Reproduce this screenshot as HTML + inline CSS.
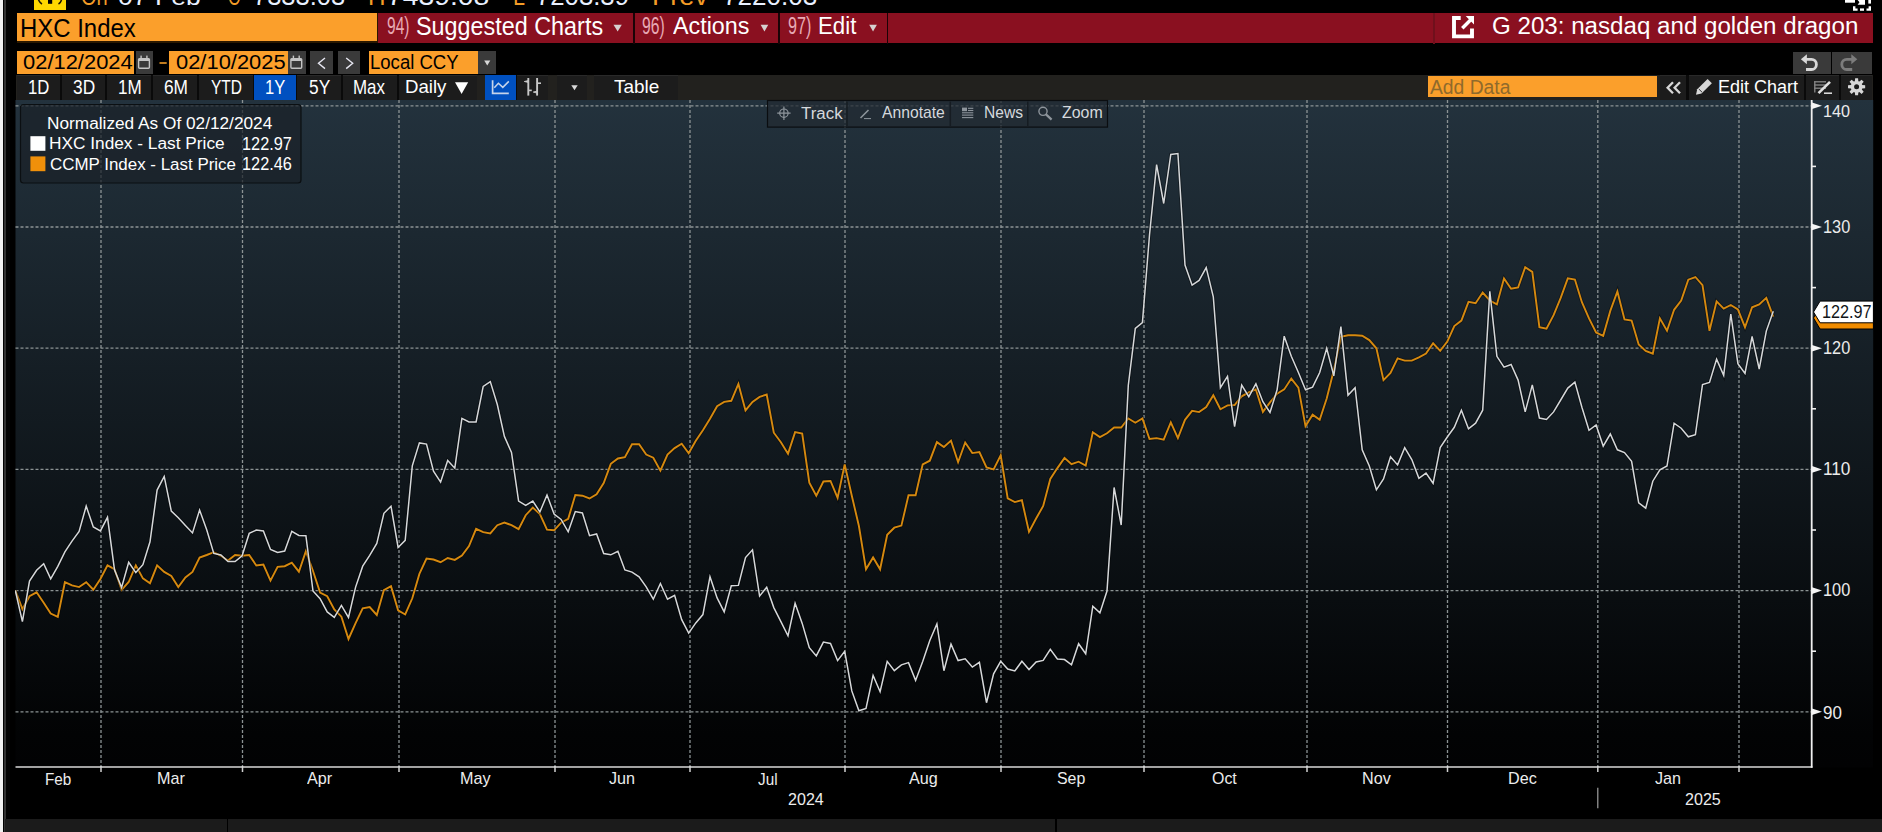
<!DOCTYPE html>
<html><head><meta charset="utf-8"><style>
html,body{margin:0;padding:0;background:#000;width:1882px;height:832px;overflow:hidden;position:relative}
.t{position:absolute;font-family:"Liberation Sans",sans-serif;white-space:pre;transform-origin:0 0}
.b{position:absolute}
</style></head><body>
<div class="b" style="left:0;top:0;width:3px;height:832px;background:#f0f0f0"></div>
<div class="b" style="left:4px;top:0;width:2px;height:832px;background:#303030"></div>
<div class="b" style="left:34px;top:0;width:32px;height:10px;background:#ffd800"></div>
<!-- row2 -->
<div class="b" style="left:16.5px;top:13px;width:361.5px;height:30px;background:#2a1800"></div><div class="b" style="left:17px;top:13.4px;width:359.6px;height:27.8px;background:#fb9f2b"></div>
<div class="b" style="left:377.7px;top:12.6px;width:1495.7px;height:30.7px;background:#8a1020"></div>
<div class="b" style="left:633px;top:13px;width:1.5px;height:30.5px;background:#1a0306"></div>
<div class="b" style="left:778px;top:13px;width:1.5px;height:30.5px;background:#1a0306"></div>
<div class="b" style="left:886.5px;top:13px;width:1.5px;height:30.5px;background:#1a0306"></div>
<div class="b" style="left:1433px;top:13px;width:1.5px;height:30.5px;background:#70101c"></div>
<!-- row3 -->
<div class="b" style="left:17px;top:51px;width:117px;height:23px;background:#fb9f2b"></div>
<div class="b" style="left:135.5px;top:51px;width:17.5px;height:23px;background:#3a3a3a"></div>
<div class="b" style="left:169px;top:51px;width:118.5px;height:23px;background:#fb9f2b"></div>
<div class="b" style="left:287.5px;top:51px;width:18px;height:23px;background:#3a3a3a"></div>
<div class="b" style="left:309.5px;top:51px;width:23.5px;height:23px;background:#3a3a3a"></div>
<div class="b" style="left:338px;top:51px;width:22px;height:23px;background:#3a3a3a"></div>
<div class="b" style="left:369px;top:51px;width:108.5px;height:23px;background:#fb9f2b"></div>
<div class="b" style="left:477.5px;top:51px;width:18px;height:23px;background:#3a3a3a"></div>
<div class="b" style="left:1792.5px;top:51.5px;width:38px;height:22px;background:#3a3a3a"></div>
<div class="b" style="left:1832.3px;top:51.5px;width:39.5px;height:22px;background:#3a3a3a"></div>
<!-- row4 -->
<div class="b" style="left:15.5px;top:75px;width:1857px;height:25px;background:#22211e"></div>
<div class="b" style="left:59.9px;top:75px;width:2.1px;height:25px;background:#0a0a0a"></div>
<div class="b" style="left:105.3px;top:75px;width:1.6px;height:25px;background:#0a0a0a"></div>
<div class="b" style="left:151.2px;top:75px;width:1.7px;height:25px;background:#0a0a0a"></div>
<div class="b" style="left:197.0px;top:75px;width:2.1px;height:25px;background:#0a0a0a"></div>
<div class="b" style="left:252.7px;top:75px;width:1.9px;height:25px;background:#0a0a0a"></div>
<div class="b" style="left:296.2px;top:75px;width:1.1px;height:25px;background:#0a0a0a"></div>
<div class="b" style="left:341.3px;top:75px;width:2.0px;height:25px;background:#0a0a0a"></div>
<div class="b" style="left:397.1px;top:75px;width:2.4px;height:25px;background:#0a0a0a"></div>
<div class="b" style="left:515.7px;top:75px;width:1.1px;height:25px;background:#0a0a0a"></div>
<div class="b" style="left:1685.6px;top:75px;width:3.2px;height:25px;background:#0a0a0a"></div>
<div class="b" style="left:1804.2px;top:75px;width:1.9px;height:25px;background:#0a0a0a"></div>
<div class="b" style="left:1839.3px;top:75px;width:2.2px;height:25px;background:#0a0a0a"></div>
<div class="b" style="left:17px;top:75px;width:42.9px;height:25px;background:#1c1c1c;border-top:1px solid #292929;box-sizing:border-box;"></div>
<div class="b" style="left:61.7px;top:75px;width:43.6px;height:25px;background:#1c1c1c;border-top:1px solid #292929;box-sizing:border-box;"></div>
<div class="b" style="left:106.6px;top:75px;width:44.6px;height:25px;background:#1c1c1c;border-top:1px solid #292929;box-sizing:border-box;"></div>
<div class="b" style="left:152.6px;top:75px;width:44.4px;height:25px;background:#1c1c1c;border-top:1px solid #292929;box-sizing:border-box;"></div>
<div class="b" style="left:198.8px;top:75px;width:53.9px;height:25px;background:#1c1c1c;border-top:1px solid #292929;box-sizing:border-box;"></div>
<div class="b" style="left:254.3px;top:75px;width:41.9px;height:25px;background:#0050c0;"></div>
<div class="b" style="left:297px;top:75px;width:44.3px;height:25px;background:#1c1c1c;border-top:1px solid #292929;box-sizing:border-box;"></div>
<div class="b" style="left:343px;top:75px;width:54.1px;height:25px;background:#1c1c1c;border-top:1px solid #292929;box-sizing:border-box;"></div>
<div class="b" style="left:399.2px;top:75px;width:77.9px;height:25px;background:#1c1c1c;border-top:1px solid #292929;box-sizing:border-box;"></div>
<div class="b" style="left:485.3px;top:75px;width:30.4px;height:25px;background:#0050c0;"></div>
<div class="b" style="left:516.5px;top:75px;width:31.0px;height:25px;background:#1c1c1c;border-top:1px solid #292929;box-sizing:border-box;"></div>
<div class="b" style="left:556.6px;top:75px;width:30.5px;height:25px;background:#1c1c1c;border-top:1px solid #292929;box-sizing:border-box;"></div>
<div class="b" style="left:594px;top:75px;width:84.2px;height:25px;background:#1c1c1c;border-top:1px solid #292929;box-sizing:border-box;"></div>
<div class="b" style="left:1659.8px;top:75px;width:25.8px;height:25px;background:#1c1c1c;border-top:1px solid #292929;box-sizing:border-box;"></div>
<div class="b" style="left:1688.5px;top:75px;width:115.7px;height:25px;background:#1c1c1c;border-top:1px solid #292929;box-sizing:border-box;"></div>
<div class="b" style="left:1805.8px;top:75px;width:33.5px;height:25px;background:#1c1c1c;border-top:1px solid #292929;box-sizing:border-box;"></div>
<div class="b" style="left:1841.2px;top:75px;width:30.6px;height:25px;background:#1c1c1c;border-top:1px solid #292929;box-sizing:border-box;"></div>
<div class="b" style="left:1428.2px;top:76.2px;width:229.2px;height:21.3px;background:#fb9f2b"></div>
<!-- chart -->
<svg class="b" style="left:0;top:0" width="1882" height="832">
<defs><linearGradient id="bg" x1="0" y1="0" x2="0" y2="1"><stop offset="0" stop-color="#23323d"/><stop offset="0.95" stop-color="#020304"/><stop offset="1" stop-color="#020203"/></linearGradient><clipPath id="pc"><rect x="15" y="100" width="1797" height="667"/></clipPath></defs>
<rect x="15.5" y="100" width="1858" height="667.5" fill="url(#bg)"/>
<line x1="15.5" y1="105.8" x2="1811" y2="105.8" stroke="#8c9394" stroke-width="1.3" stroke-dasharray="3 2"/>
<line x1="15.5" y1="227.0" x2="1811" y2="227.0" stroke="#8c9394" stroke-width="1.3" stroke-dasharray="3 2"/>
<line x1="15.5" y1="348.2" x2="1811" y2="348.2" stroke="#8c9394" stroke-width="1.3" stroke-dasharray="3 2"/>
<line x1="15.5" y1="469.4" x2="1811" y2="469.4" stroke="#8c9394" stroke-width="1.3" stroke-dasharray="3 2"/>
<line x1="15.5" y1="590.6" x2="1811" y2="590.6" stroke="#8c9394" stroke-width="1.3" stroke-dasharray="3 2"/>
<line x1="15.5" y1="711.8" x2="1811" y2="711.8" stroke="#8c9394" stroke-width="1.3" stroke-dasharray="3 2"/>
<line x1="101" y1="100" x2="101" y2="767" stroke="#8c9394" stroke-width="1.3" stroke-dasharray="3 2"/>
<line x1="101" y1="766" x2="101" y2="772" stroke="#d0d0d0" stroke-width="1.5"/>
<line x1="242.5" y1="100" x2="242.5" y2="767" stroke="#8c9394" stroke-width="1.3" stroke-dasharray="3 2"/>
<line x1="242.5" y1="766" x2="242.5" y2="772" stroke="#d0d0d0" stroke-width="1.5"/>
<line x1="399" y1="100" x2="399" y2="767" stroke="#8c9394" stroke-width="1.3" stroke-dasharray="3 2"/>
<line x1="399" y1="766" x2="399" y2="772" stroke="#d0d0d0" stroke-width="1.5"/>
<line x1="555" y1="100" x2="555" y2="767" stroke="#8c9394" stroke-width="1.3" stroke-dasharray="3 2"/>
<line x1="555" y1="766" x2="555" y2="772" stroke="#d0d0d0" stroke-width="1.5"/>
<line x1="690" y1="100" x2="690" y2="767" stroke="#8c9394" stroke-width="1.3" stroke-dasharray="3 2"/>
<line x1="690" y1="766" x2="690" y2="772" stroke="#d0d0d0" stroke-width="1.5"/>
<line x1="845" y1="100" x2="845" y2="767" stroke="#8c9394" stroke-width="1.3" stroke-dasharray="3 2"/>
<line x1="845" y1="766" x2="845" y2="772" stroke="#d0d0d0" stroke-width="1.5"/>
<line x1="1001" y1="100" x2="1001" y2="767" stroke="#8c9394" stroke-width="1.3" stroke-dasharray="3 2"/>
<line x1="1001" y1="766" x2="1001" y2="772" stroke="#d0d0d0" stroke-width="1.5"/>
<line x1="1144" y1="100" x2="1144" y2="767" stroke="#8c9394" stroke-width="1.3" stroke-dasharray="3 2"/>
<line x1="1144" y1="766" x2="1144" y2="772" stroke="#d0d0d0" stroke-width="1.5"/>
<line x1="1307" y1="100" x2="1307" y2="767" stroke="#8c9394" stroke-width="1.3" stroke-dasharray="3 2"/>
<line x1="1307" y1="766" x2="1307" y2="772" stroke="#d0d0d0" stroke-width="1.5"/>
<line x1="1447.5" y1="100" x2="1447.5" y2="767" stroke="#8c9394" stroke-width="1.3" stroke-dasharray="3 2"/>
<line x1="1447.5" y1="766" x2="1447.5" y2="772" stroke="#d0d0d0" stroke-width="1.5"/>
<line x1="1597.8" y1="100" x2="1597.8" y2="767" stroke="#8c9394" stroke-width="1.3" stroke-dasharray="3 2"/>
<line x1="1597.8" y1="766" x2="1597.8" y2="772" stroke="#d0d0d0" stroke-width="1.5"/>
<line x1="1739" y1="100" x2="1739" y2="767" stroke="#8c9394" stroke-width="1.3" stroke-dasharray="3 2"/>
<line x1="1739" y1="766" x2="1739" y2="772" stroke="#d0d0d0" stroke-width="1.5"/>
<rect x="20.5" y="104.5" width="280.5" height="78.5" rx="3" fill="#1a2128" fill-opacity="0.72" stroke="#0b0f12" stroke-width="1.2"/>
<rect x="30.4" y="136.2" width="15" height="14.6" fill="#ffffff"/>
<rect x="30.4" y="156.4" width="15" height="14.8" fill="#f0900a"/>
<rect x="767.5" y="100.5" width="340" height="26.6" fill="#232b33" fill-opacity="0.75" stroke="#0a0d10" stroke-width="1.2"/>
<line x1="847" y1="101.5" x2="847" y2="126" stroke="#161c22" stroke-width="1.5"/>
<line x1="950.3" y1="101.5" x2="950.3" y2="126" stroke="#161c22" stroke-width="1.5"/>
<line x1="1027.8" y1="101.5" x2="1027.8" y2="126" stroke="#161c22" stroke-width="1.5"/>
<line x1="15.5" y1="767" x2="1812.5" y2="767" stroke="#d8d8d8" stroke-width="1.6"/>
<line x1="1811.7" y1="100" x2="1811.7" y2="767.8" stroke="#f0f0f0" stroke-width="1.8"/>
<path d="M1812 102.5 L1822 105.8 L1812 109.1 Z" fill="#f4f4f4"/>
<path d="M1812 223.7 L1822 227.0 L1812 230.3 Z" fill="#f4f4f4"/>
<path d="M1812 344.9 L1822 348.2 L1812 351.5 Z" fill="#f4f4f4"/>
<path d="M1812 466.1 L1822 469.4 L1812 472.7 Z" fill="#f4f4f4"/>
<path d="M1812 587.3 L1822 590.6 L1812 593.9 Z" fill="#f4f4f4"/>
<path d="M1812 708.5 L1822 711.8 L1812 715.1 Z" fill="#f4f4f4"/>
<line x1="1812" y1="166.4" x2="1816" y2="166.4" stroke="#f0f0f0" stroke-width="1.6"/>
<line x1="1812" y1="287.6" x2="1816" y2="287.6" stroke="#f0f0f0" stroke-width="1.6"/>
<line x1="1812" y1="408.8" x2="1816" y2="408.8" stroke="#f0f0f0" stroke-width="1.6"/>
<line x1="1812" y1="530.0" x2="1816" y2="530.0" stroke="#f0f0f0" stroke-width="1.6"/>
<line x1="1812" y1="651.2" x2="1816" y2="651.2" stroke="#f0f0f0" stroke-width="1.6"/>
<line x1="1597.8" y1="787.7" x2="1597.8" y2="808.3" stroke="#a0a0a0" stroke-width="1.2"/>
<g clip-path="url(#pc)">
<polyline points="15.3,590.4 22.4,609.2 29.5,596.2 36.6,592.3 43.7,602.7 50.7,613.5 57.8,616.8 64.9,582.2 72.0,585.4 79.1,587.1 86.2,582.2 93.3,589.7 100.4,578.9 107.5,565.3 114.5,569.2 121.6,589.9 128.7,582.0 135.8,565.4 142.9,578.4 150.0,583.2 157.1,565.4 164.2,571.9 171.3,576.0 178.3,587.0 185.4,577.4 192.5,571.9 199.6,557.5 206.7,555.0 213.8,552.2 220.9,555.8 228.0,560.6 235.1,555.0 242.1,555.8 249.2,555.0 256.3,565.5 263.4,564.5 270.5,580.6 277.6,566.9 284.7,566.2 291.8,562.6 298.9,571.7 305.9,551.1 313.0,571.0 320.1,592.6 327.2,596.2 334.3,609.5 341.4,616.7 348.5,639.0 355.6,623.2 362.7,608.3 369.7,607.1 376.8,615.0 383.9,590.1 391.0,586.2 398.1,610.3 405.2,614.5 412.3,598.3 419.4,573.9 426.5,558.6 433.5,559.5 440.6,562.2 447.7,558.0 454.8,559.9 461.9,555.5 469.0,546.0 476.1,528.8 483.2,532.1 490.3,533.4 497.3,525.2 504.4,522.5 511.5,525.2 518.6,529.2 525.7,515.2 532.8,507.6 539.9,514.1 547.0,529.7 554.1,530.3 561.1,522.7 568.2,518.8 575.3,495.0 582.4,495.7 589.5,498.5 596.6,494.2 603.7,483.1 610.8,463.8 617.9,458.5 624.9,457.1 632.0,444.2 639.1,444.2 646.2,454.6 653.3,457.7 660.4,470.6 667.5,454.6 674.6,448.1 681.7,443.7 688.7,453.3 695.8,440.8 702.9,430.2 710.0,418.7 717.1,406.2 724.2,401.9 731.3,400.8 738.4,384.0 745.5,410.4 752.5,401.9 759.6,396.9 766.7,394.6 773.8,432.7 780.9,442.3 788.0,453.8 795.1,432.1 802.2,433.5 809.3,482.7 816.3,495.6 823.4,481.5 830.5,481.0 837.6,497.9 844.7,464.4 851.8,495.7 858.9,526.0 866.0,569.3 873.1,557.4 880.1,569.3 887.2,534.7 894.3,527.7 901.4,525.6 908.5,495.3 915.6,495.3 922.7,464.4 929.8,460.7 936.9,442.1 943.9,447.0 951.0,440.6 958.1,462.2 965.2,442.5 972.3,453.1 979.4,452.1 986.5,467.5 993.6,469.4 1000.7,455.4 1007.7,498.3 1014.8,502.1 1021.9,500.2 1029.0,531.9 1036.1,518.5 1043.2,506.0 1050.3,479.0 1057.4,468.1 1064.5,457.9 1071.5,464.2 1078.6,461.7 1085.7,465.6 1092.8,432.3 1099.9,437.1 1107.0,433.3 1114.1,427.5 1121.2,427.5 1128.3,418.5 1135.3,422.7 1142.4,418.5 1149.5,439.0 1156.6,438.1 1163.7,439.6 1170.8,422.3 1177.9,438.1 1185.0,419.8 1192.1,410.8 1199.1,412.1 1206.2,407.1 1213.3,395.2 1220.4,409.3 1227.5,405.4 1234.6,405.0 1241.7,396.3 1248.8,392.4 1255.9,389.4 1262.9,411.9 1270.0,402.4 1277.1,393.7 1284.2,389.4 1291.3,378.6 1298.4,387.7 1305.5,426.2 1312.6,414.7 1319.7,419.7 1326.7,398.5 1333.8,370.3 1340.9,336.8 1348.0,335.3 1355.1,335.3 1362.2,335.7 1369.3,340.1 1376.4,348.3 1383.5,380.1 1390.5,372.9 1397.6,358.4 1404.7,360.6 1411.8,360.6 1418.9,357.4 1426.0,353.5 1433.1,343.3 1440.2,350.9 1447.3,341.6 1454.3,326.0 1461.4,320.6 1468.5,301.8 1475.6,303.3 1482.7,292.5 1489.8,300.5 1496.9,304.4 1504.0,278.4 1511.1,288.8 1518.1,287.5 1525.2,267.2 1532.3,271.9 1539.4,327.1 1546.5,328.6 1553.6,315.2 1560.7,297.9 1567.8,278.4 1574.9,279.5 1581.9,302.2 1589.0,318.4 1596.1,332.5 1603.2,335.8 1610.3,310.9 1617.4,291.4 1624.5,319.5 1631.6,320.6 1638.7,344.4 1645.7,350.9 1652.8,353.7 1659.9,318.4 1667.0,330.8 1674.1,309.8 1681.2,300.5 1688.3,279.7 1695.4,277.0 1702.5,285.2 1709.5,330.8 1716.6,301.4 1723.7,308.6 1730.8,305.0 1737.9,309.5 1745.0,327.2 1752.1,307.3 1759.2,304.4 1766.3,297.8 1773.3,316.7" fill="none" stroke="#000" stroke-opacity="0.35" stroke-width="3.6" stroke-linejoin="miter"/>
<polyline points="15.3,590.4 22.4,609.2 29.5,596.2 36.6,592.3 43.7,602.7 50.7,613.5 57.8,616.8 64.9,582.2 72.0,585.4 79.1,587.1 86.2,582.2 93.3,589.7 100.4,578.9 107.5,565.3 114.5,569.2 121.6,589.9 128.7,582.0 135.8,565.4 142.9,578.4 150.0,583.2 157.1,565.4 164.2,571.9 171.3,576.0 178.3,587.0 185.4,577.4 192.5,571.9 199.6,557.5 206.7,555.0 213.8,552.2 220.9,555.8 228.0,560.6 235.1,555.0 242.1,555.8 249.2,555.0 256.3,565.5 263.4,564.5 270.5,580.6 277.6,566.9 284.7,566.2 291.8,562.6 298.9,571.7 305.9,551.1 313.0,571.0 320.1,592.6 327.2,596.2 334.3,609.5 341.4,616.7 348.5,639.0 355.6,623.2 362.7,608.3 369.7,607.1 376.8,615.0 383.9,590.1 391.0,586.2 398.1,610.3 405.2,614.5 412.3,598.3 419.4,573.9 426.5,558.6 433.5,559.5 440.6,562.2 447.7,558.0 454.8,559.9 461.9,555.5 469.0,546.0 476.1,528.8 483.2,532.1 490.3,533.4 497.3,525.2 504.4,522.5 511.5,525.2 518.6,529.2 525.7,515.2 532.8,507.6 539.9,514.1 547.0,529.7 554.1,530.3 561.1,522.7 568.2,518.8 575.3,495.0 582.4,495.7 589.5,498.5 596.6,494.2 603.7,483.1 610.8,463.8 617.9,458.5 624.9,457.1 632.0,444.2 639.1,444.2 646.2,454.6 653.3,457.7 660.4,470.6 667.5,454.6 674.6,448.1 681.7,443.7 688.7,453.3 695.8,440.8 702.9,430.2 710.0,418.7 717.1,406.2 724.2,401.9 731.3,400.8 738.4,384.0 745.5,410.4 752.5,401.9 759.6,396.9 766.7,394.6 773.8,432.7 780.9,442.3 788.0,453.8 795.1,432.1 802.2,433.5 809.3,482.7 816.3,495.6 823.4,481.5 830.5,481.0 837.6,497.9 844.7,464.4 851.8,495.7 858.9,526.0 866.0,569.3 873.1,557.4 880.1,569.3 887.2,534.7 894.3,527.7 901.4,525.6 908.5,495.3 915.6,495.3 922.7,464.4 929.8,460.7 936.9,442.1 943.9,447.0 951.0,440.6 958.1,462.2 965.2,442.5 972.3,453.1 979.4,452.1 986.5,467.5 993.6,469.4 1000.7,455.4 1007.7,498.3 1014.8,502.1 1021.9,500.2 1029.0,531.9 1036.1,518.5 1043.2,506.0 1050.3,479.0 1057.4,468.1 1064.5,457.9 1071.5,464.2 1078.6,461.7 1085.7,465.6 1092.8,432.3 1099.9,437.1 1107.0,433.3 1114.1,427.5 1121.2,427.5 1128.3,418.5 1135.3,422.7 1142.4,418.5 1149.5,439.0 1156.6,438.1 1163.7,439.6 1170.8,422.3 1177.9,438.1 1185.0,419.8 1192.1,410.8 1199.1,412.1 1206.2,407.1 1213.3,395.2 1220.4,409.3 1227.5,405.4 1234.6,405.0 1241.7,396.3 1248.8,392.4 1255.9,389.4 1262.9,411.9 1270.0,402.4 1277.1,393.7 1284.2,389.4 1291.3,378.6 1298.4,387.7 1305.5,426.2 1312.6,414.7 1319.7,419.7 1326.7,398.5 1333.8,370.3 1340.9,336.8 1348.0,335.3 1355.1,335.3 1362.2,335.7 1369.3,340.1 1376.4,348.3 1383.5,380.1 1390.5,372.9 1397.6,358.4 1404.7,360.6 1411.8,360.6 1418.9,357.4 1426.0,353.5 1433.1,343.3 1440.2,350.9 1447.3,341.6 1454.3,326.0 1461.4,320.6 1468.5,301.8 1475.6,303.3 1482.7,292.5 1489.8,300.5 1496.9,304.4 1504.0,278.4 1511.1,288.8 1518.1,287.5 1525.2,267.2 1532.3,271.9 1539.4,327.1 1546.5,328.6 1553.6,315.2 1560.7,297.9 1567.8,278.4 1574.9,279.5 1581.9,302.2 1589.0,318.4 1596.1,332.5 1603.2,335.8 1610.3,310.9 1617.4,291.4 1624.5,319.5 1631.6,320.6 1638.7,344.4 1645.7,350.9 1652.8,353.7 1659.9,318.4 1667.0,330.8 1674.1,309.8 1681.2,300.5 1688.3,279.7 1695.4,277.0 1702.5,285.2 1709.5,330.8 1716.6,301.4 1723.7,308.6 1730.8,305.0 1737.9,309.5 1745.0,327.2 1752.1,307.3 1759.2,304.4 1766.3,297.8 1773.3,316.7" fill="none" stroke="#d6890f" stroke-width="1.9" stroke-linejoin="miter"/>
<polyline points="15.3,590.4 22.4,621.7 29.5,581.1 36.6,570.3 43.7,563.8 50.7,578.9 57.8,566.4 64.9,551.9 72.0,541.1 79.1,531.4 86.2,506.1 93.3,527.0 100.4,530.9 107.5,517.3 114.5,569.8 121.6,587.5 128.7,562.3 135.8,572.6 142.9,564.7 150.0,541.8 157.1,490.1 164.2,476.4 171.3,511.1 178.3,517.8 185.4,525.5 192.5,532.9 199.6,510.1 206.7,529.8 213.8,553.4 220.9,555.0 228.0,561.5 235.1,561.5 242.1,555.8 249.2,533.4 256.3,530.1 263.4,530.9 270.5,549.4 277.6,552.5 284.7,551.1 291.8,531.3 298.9,535.4 305.9,535.7 313.0,591.0 320.1,598.7 327.2,611.9 334.3,617.4 341.4,605.4 348.5,617.4 355.6,587.1 362.7,566.2 369.7,555.4 376.8,543.4 383.9,513.3 391.0,506.2 398.1,547.5 405.2,540.3 412.3,465.8 419.4,442.9 426.5,444.1 433.5,471.1 440.6,482.1 447.7,460.5 454.8,468.2 461.9,418.4 469.0,422.0 476.1,422.0 483.2,386.4 490.3,381.6 497.3,404.5 504.4,436.4 511.5,452.5 518.6,501.1 525.7,505.4 532.8,501.1 539.9,511.9 547.0,495.0 554.1,514.1 561.1,519.5 568.2,531.8 575.3,511.5 582.4,513.0 589.5,535.7 596.6,534.0 603.7,553.5 610.8,554.8 617.9,551.3 624.9,569.9 632.0,572.1 639.1,576.8 646.2,586.9 653.3,599.2 660.4,583.5 667.5,599.2 674.6,595.4 681.7,619.6 688.7,633.1 695.8,622.9 702.9,614.6 710.0,576.7 717.1,597.9 724.2,611.9 731.3,585.8 738.4,585.4 745.5,557.5 752.5,549.8 759.6,596.0 766.7,587.3 773.8,607.6 780.9,621.7 788.0,635.8 795.1,603.3 802.2,623.4 809.3,647.7 816.3,655.9 823.4,642.1 830.5,643.4 837.6,660.6 844.7,651.3 851.8,690.9 858.9,710.7 866.0,708.5 873.1,675.4 880.1,691.7 887.2,661.4 894.3,670.7 901.4,664.8 908.5,662.6 915.6,680.4 922.7,661.4 929.8,640.4 936.9,623.9 943.9,670.7 951.0,644.1 958.1,660.6 965.2,658.8 972.3,667.1 979.4,662.3 986.5,702.7 993.6,673.8 1000.7,661.3 1007.7,669.0 1014.8,671.0 1021.9,661.3 1029.0,669.6 1036.1,661.9 1043.2,660.4 1050.3,649.4 1057.4,659.0 1064.5,659.6 1071.5,664.8 1078.6,643.7 1085.7,653.8 1092.8,606.2 1099.9,612.9 1107.0,591.0 1114.1,487.5 1121.2,525.0 1128.3,385.2 1135.3,328.5 1142.4,322.7 1149.5,235.0 1156.6,164.6 1163.7,203.5 1170.8,154.4 1177.9,153.5 1185.0,265.0 1192.1,285.2 1199.1,280.4 1206.2,267.6 1213.3,296.8 1220.4,387.7 1227.5,376.4 1234.6,426.6 1241.7,385.1 1248.8,396.7 1255.9,383.8 1262.9,401.7 1270.0,412.5 1277.1,389.8 1284.2,336.2 1291.3,356.3 1298.4,372.5 1305.5,389.8 1312.6,387.2 1319.7,372.5 1326.7,348.3 1333.8,375.8 1340.9,326.6 1348.0,395.2 1355.1,387.7 1362.2,449.8 1369.3,466.0 1376.4,489.8 1383.5,479.0 1390.5,456.7 1397.6,464.9 1404.7,447.6 1411.8,459.5 1418.9,478.3 1426.0,473.1 1433.1,483.3 1440.2,447.6 1447.3,437.0 1454.3,427.3 1461.4,410.2 1468.5,428.8 1475.6,423.2 1482.7,410.2 1489.8,291.4 1496.9,356.3 1504.0,367.1 1511.1,364.5 1518.1,380.1 1525.2,411.9 1532.3,384.9 1539.4,418.0 1546.5,419.5 1553.6,411.9 1560.7,400.0 1567.8,388.1 1574.9,382.1 1581.9,407.2 1589.0,430.3 1596.1,424.9 1603.2,446.1 1610.3,434.0 1617.4,449.8 1624.5,452.6 1631.6,461.3 1638.7,502.8 1645.7,508.2 1652.8,481.2 1659.9,469.9 1667.0,466.0 1674.1,423.2 1681.2,428.2 1688.3,436.8 1695.4,434.6 1702.5,384.5 1709.5,382.5 1716.6,359.1 1723.7,375.3 1730.8,314.0 1737.9,363.6 1745.0,373.5 1752.1,336.5 1759.2,369.0 1766.3,331.1 1773.3,311.3" fill="none" stroke="#000" stroke-opacity="0.35" stroke-width="3.4" stroke-linejoin="miter"/>
<polyline points="15.3,590.4 22.4,621.7 29.5,581.1 36.6,570.3 43.7,563.8 50.7,578.9 57.8,566.4 64.9,551.9 72.0,541.1 79.1,531.4 86.2,506.1 93.3,527.0 100.4,530.9 107.5,517.3 114.5,569.8 121.6,587.5 128.7,562.3 135.8,572.6 142.9,564.7 150.0,541.8 157.1,490.1 164.2,476.4 171.3,511.1 178.3,517.8 185.4,525.5 192.5,532.9 199.6,510.1 206.7,529.8 213.8,553.4 220.9,555.0 228.0,561.5 235.1,561.5 242.1,555.8 249.2,533.4 256.3,530.1 263.4,530.9 270.5,549.4 277.6,552.5 284.7,551.1 291.8,531.3 298.9,535.4 305.9,535.7 313.0,591.0 320.1,598.7 327.2,611.9 334.3,617.4 341.4,605.4 348.5,617.4 355.6,587.1 362.7,566.2 369.7,555.4 376.8,543.4 383.9,513.3 391.0,506.2 398.1,547.5 405.2,540.3 412.3,465.8 419.4,442.9 426.5,444.1 433.5,471.1 440.6,482.1 447.7,460.5 454.8,468.2 461.9,418.4 469.0,422.0 476.1,422.0 483.2,386.4 490.3,381.6 497.3,404.5 504.4,436.4 511.5,452.5 518.6,501.1 525.7,505.4 532.8,501.1 539.9,511.9 547.0,495.0 554.1,514.1 561.1,519.5 568.2,531.8 575.3,511.5 582.4,513.0 589.5,535.7 596.6,534.0 603.7,553.5 610.8,554.8 617.9,551.3 624.9,569.9 632.0,572.1 639.1,576.8 646.2,586.9 653.3,599.2 660.4,583.5 667.5,599.2 674.6,595.4 681.7,619.6 688.7,633.1 695.8,622.9 702.9,614.6 710.0,576.7 717.1,597.9 724.2,611.9 731.3,585.8 738.4,585.4 745.5,557.5 752.5,549.8 759.6,596.0 766.7,587.3 773.8,607.6 780.9,621.7 788.0,635.8 795.1,603.3 802.2,623.4 809.3,647.7 816.3,655.9 823.4,642.1 830.5,643.4 837.6,660.6 844.7,651.3 851.8,690.9 858.9,710.7 866.0,708.5 873.1,675.4 880.1,691.7 887.2,661.4 894.3,670.7 901.4,664.8 908.5,662.6 915.6,680.4 922.7,661.4 929.8,640.4 936.9,623.9 943.9,670.7 951.0,644.1 958.1,660.6 965.2,658.8 972.3,667.1 979.4,662.3 986.5,702.7 993.6,673.8 1000.7,661.3 1007.7,669.0 1014.8,671.0 1021.9,661.3 1029.0,669.6 1036.1,661.9 1043.2,660.4 1050.3,649.4 1057.4,659.0 1064.5,659.6 1071.5,664.8 1078.6,643.7 1085.7,653.8 1092.8,606.2 1099.9,612.9 1107.0,591.0 1114.1,487.5 1121.2,525.0 1128.3,385.2 1135.3,328.5 1142.4,322.7 1149.5,235.0 1156.6,164.6 1163.7,203.5 1170.8,154.4 1177.9,153.5 1185.0,265.0 1192.1,285.2 1199.1,280.4 1206.2,267.6 1213.3,296.8 1220.4,387.7 1227.5,376.4 1234.6,426.6 1241.7,385.1 1248.8,396.7 1255.9,383.8 1262.9,401.7 1270.0,412.5 1277.1,389.8 1284.2,336.2 1291.3,356.3 1298.4,372.5 1305.5,389.8 1312.6,387.2 1319.7,372.5 1326.7,348.3 1333.8,375.8 1340.9,326.6 1348.0,395.2 1355.1,387.7 1362.2,449.8 1369.3,466.0 1376.4,489.8 1383.5,479.0 1390.5,456.7 1397.6,464.9 1404.7,447.6 1411.8,459.5 1418.9,478.3 1426.0,473.1 1433.1,483.3 1440.2,447.6 1447.3,437.0 1454.3,427.3 1461.4,410.2 1468.5,428.8 1475.6,423.2 1482.7,410.2 1489.8,291.4 1496.9,356.3 1504.0,367.1 1511.1,364.5 1518.1,380.1 1525.2,411.9 1532.3,384.9 1539.4,418.0 1546.5,419.5 1553.6,411.9 1560.7,400.0 1567.8,388.1 1574.9,382.1 1581.9,407.2 1589.0,430.3 1596.1,424.9 1603.2,446.1 1610.3,434.0 1617.4,449.8 1624.5,452.6 1631.6,461.3 1638.7,502.8 1645.7,508.2 1652.8,481.2 1659.9,469.9 1667.0,466.0 1674.1,423.2 1681.2,428.2 1688.3,436.8 1695.4,434.6 1702.5,384.5 1709.5,382.5 1716.6,359.1 1723.7,375.3 1730.8,314.0 1737.9,363.6 1745.0,373.5 1752.1,336.5 1759.2,369.0 1766.3,331.1 1773.3,311.3" fill="none" stroke="#d6d8da" stroke-width="1.5" stroke-linejoin="miter"/>
</g>
<path d="M1813.5 318 L1820 307 L1873.4 307 L1873.4 329 L1820 329 Z" fill="#f08c00" stroke="#000" stroke-width="1"/>
<path d="M1813.5 312 L1820.1 301.1 L1873.4 301.1 L1873.4 322.8 L1820.1 322.8 Z" fill="#ffffff" stroke="#000" stroke-width="1"/>
<rect x="1873.4" y="100" width="9" height="718" fill="#000"/>
</svg>
<!-- bottom bar -->
<div class="b" style="left:5px;top:818.8px;width:1877px;height:14px;background:#1b1b1b"></div>
<div class="b" style="left:227px;top:818px;width:1.3px;height:14px;background:#000"></div>
<div class="b" style="left:1054.8px;top:818px;width:2.4px;height:14px;background:#000"></div>
<div class="t" style="left:81.30px;top:-16.28px;font-size:25.86px;line-height:25.86px;color:#f39c27;transform:scaleX(0.7767);">On</div>
<div class="t" style="left:117.93px;top:-15.38px;font-size:24.79px;line-height:24.79px;color:#e8f0ff;transform:scaleX(1.0742);">07 Feb</div>
<div class="t" style="left:227.88px;top:-16.28px;font-size:25.86px;line-height:25.86px;color:#f39c27;transform:scaleX(0.6370);">O</div>
<div class="t" style="left:252.73px;top:-16.28px;font-size:25.86px;line-height:25.86px;color:#e8f0ff;transform:scaleX(0.9855);">7333.03</div>
<div class="t" style="left:368.46px;top:-16.60px;font-size:26.23px;line-height:26.23px;color:#f39c27;transform:scaleX(0.9258);">H</div>
<div class="t" style="left:386.59px;top:-16.28px;font-size:25.86px;line-height:25.86px;color:#e8f0ff;transform:scaleX(1.0943);">7439.08</div>
<div class="t" style="left:512.77px;top:-16.60px;font-size:26.23px;line-height:26.23px;color:#f39c27;transform:scaleX(0.8231);">L</div>
<div class="t" style="left:536.41px;top:-16.28px;font-size:25.86px;line-height:25.86px;color:#e8f0ff;transform:scaleX(0.9943);">7203.39</div>
<div class="t" style="left:651.62px;top:-16.60px;font-size:26.23px;line-height:26.23px;color:#f39c27;transform:scaleX(1.0411);">Prev</div>
<div class="t" style="left:723.40px;top:-16.28px;font-size:25.86px;line-height:25.86px;color:#e8f0ff;transform:scaleX(1.0075);">7220.03</div>
<div class="t" style="left:19.78px;top:16.06px;font-size:25.34px;line-height:25.34px;color:#000000;transform:scaleX(0.9449);">HXC Index</div>
<div class="t" style="left:386.82px;top:14.04px;font-size:24.66px;line-height:24.66px;color:#e7a9b4;transform:scaleX(0.6312);">94)</div>
<div class="t" style="left:416.13px;top:13.88px;font-size:25.21px;line-height:25.21px;color:#ffffff;transform:scaleX(0.9272);">Suggested Charts</div>
<div class="t" style="left:642.21px;top:14.04px;font-size:24.66px;line-height:24.66px;color:#e7a9b4;transform:scaleX(0.6373);">96)</div>
<div class="t" style="left:672.80px;top:13.77px;font-size:24.38px;line-height:24.38px;color:#ffffff;transform:scaleX(0.9557);">Actions</div>
<div class="t" style="left:788.09px;top:14.04px;font-size:24.66px;line-height:24.66px;color:#e7a9b4;transform:scaleX(0.6556);">97)</div>
<div class="t" style="left:818.32px;top:13.77px;font-size:24.38px;line-height:24.38px;color:#ffffff;transform:scaleX(0.9128);">Edit</div>
<div class="t" style="left:1491.59px;top:14.27px;font-size:24.38px;line-height:24.38px;color:#ffffff;transform:scaleX(0.9902);">G 203: nasdaq and golden dragon</div>
<div class="t" style="left:22.52px;top:52.08px;font-size:20.96px;line-height:20.96px;color:#000000;transform:scaleX(1.0462);">02/12/2024</div>
<div class="t" style="left:175.62px;top:52.08px;font-size:20.96px;line-height:20.96px;color:#000000;transform:scaleX(1.0454);">02/10/2025</div>
<div class="t" style="left:370.42px;top:51.70px;font-size:20.82px;line-height:20.82px;color:#000000;transform:scaleX(0.8906);">Local CCY</div>
<div class="t" style="left:27.76px;top:76.75px;font-size:20.29px;line-height:20.29px;color:#ffffff;transform:scaleX(0.8229);">1D</div>
<div class="t" style="left:72.91px;top:77.00px;font-size:20.00px;line-height:20.00px;color:#ffffff;transform:scaleX(0.8655);">3D</div>
<div class="t" style="left:118.13px;top:76.75px;font-size:20.29px;line-height:20.29px;color:#ffffff;transform:scaleX(0.8415);">1M</div>
<div class="t" style="left:163.83px;top:77.00px;font-size:20.00px;line-height:20.00px;color:#ffffff;transform:scaleX(0.8651);">6M</div>
<div class="t" style="left:210.93px;top:76.75px;font-size:20.29px;line-height:20.29px;color:#ffffff;transform:scaleX(0.7650);">YTD</div>
<div class="t" style="left:265.18px;top:76.75px;font-size:20.29px;line-height:20.29px;color:#ffffff;transform:scaleX(0.8141);">1Y</div>
<div class="t" style="left:308.91px;top:76.75px;font-size:20.29px;line-height:20.29px;color:#ffffff;transform:scaleX(0.8540);">5Y</div>
<div class="t" style="left:352.94px;top:76.75px;font-size:20.29px;line-height:20.29px;color:#ffffff;transform:scaleX(0.8351);">Max</div>
<div class="t" style="left:405.21px;top:77.60px;font-size:18.36px;line-height:18.36px;color:#ffffff;transform:scaleX(1.0157);">Daily</div>
<div class="t" style="left:613.62px;top:77.60px;font-size:18.36px;line-height:18.36px;color:#ffffff;transform:scaleX(1.0311);">Table</div>
<div class="t" style="left:1430.20px;top:77.20px;font-size:20.00px;line-height:20.00px;color:#8f6a2c;transform:scaleX(0.9640);">Add Data</div>
<div class="t" style="left:1718.26px;top:78.00px;font-size:18.36px;line-height:18.36px;color:#ffffff;transform:scaleX(0.9796);">Edit Chart</div>
<div class="t" style="left:800.66px;top:104.93px;font-size:16.44px;line-height:16.44px;color:#d5d9dd;transform:scaleX(1.0272);">Track</div>
<div class="t" style="left:882.40px;top:104.12px;font-size:17.39px;line-height:17.39px;color:#d5d9dd;transform:scaleX(0.9032);">Annotate</div>
<div class="t" style="left:983.55px;top:104.12px;font-size:17.39px;line-height:17.39px;color:#d5d9dd;transform:scaleX(0.8987);">News</div>
<div class="t" style="left:1061.72px;top:104.12px;font-size:17.39px;line-height:17.39px;color:#d5d9dd;transform:scaleX(0.9163);">Zoom</div>
<div class="t" style="left:46.72px;top:116.48px;font-size:16.85px;line-height:16.85px;color:#ffffff;transform:scaleX(1.0238);">Normalized As Of 02/12/2024</div>
<div class="t" style="left:49.32px;top:136.29px;font-size:16.71px;line-height:16.71px;color:#ffffff;transform:scaleX(1.0348);">HXC Index - Last Price</div>
<div class="t" style="left:242.49px;top:135.69px;font-size:17.43px;line-height:17.43px;color:#ffffff;transform:scaleX(0.9360);">122.97</div>
<div class="t" style="left:49.85px;top:156.69px;font-size:16.71px;line-height:16.71px;color:#ffffff;transform:scaleX(1.0143);">CCMP Index - Last Price</div>
<div class="t" style="left:242.49px;top:156.09px;font-size:17.43px;line-height:17.43px;color:#ffffff;transform:scaleX(0.9360);">122.46</div>
<div class="t" style="left:1823.00px;top:102.71px;font-size:17.29px;line-height:17.29px;color:#ececec;transform:scaleX(0.9368);">140</div>
<div class="t" style="left:1823.09px;top:218.01px;font-size:18.57px;line-height:18.57px;color:#ececec;transform:scaleX(0.8789);">130</div>
<div class="t" style="left:1823.09px;top:338.76px;font-size:18.29px;line-height:18.29px;color:#ececec;transform:scaleX(0.8926);">120</div>
<div class="t" style="left:1823.02px;top:459.96px;font-size:18.29px;line-height:18.29px;color:#ececec;transform:scaleX(0.9412);">110</div>
<div class="t" style="left:1823.09px;top:581.16px;font-size:18.29px;line-height:18.29px;color:#ececec;transform:scaleX(0.8926);">100</div>
<div class="t" style="left:1822.55px;top:703.56px;font-size:18.29px;line-height:18.29px;color:#ececec;transform:scaleX(0.9275);">90</div>
<div class="t" style="left:1821.90px;top:303.11px;font-size:18.57px;line-height:18.57px;color:#101418;transform:scaleX(0.8729);">122.97</div>
<div class="t" style="left:45.05px;top:770.53px;font-size:16.44px;line-height:16.44px;color:#ececec;transform:scaleX(0.9300);">Feb</div>
<div class="t" style="left:157.02px;top:769.72px;font-size:17.39px;line-height:17.39px;color:#ececec;transform:scaleX(0.9300);">Mar</div>
<div class="t" style="left:306.75px;top:769.72px;font-size:17.39px;line-height:17.39px;color:#ececec;transform:scaleX(0.9300);">Apr</div>
<div class="t" style="left:460.17px;top:769.72px;font-size:17.39px;line-height:17.39px;color:#ececec;transform:scaleX(0.9300);">May</div>
<div class="t" style="left:608.50px;top:769.72px;font-size:17.39px;line-height:17.39px;color:#ececec;transform:scaleX(0.9300);">Jun</div>
<div class="t" style="left:757.90px;top:770.53px;font-size:16.44px;line-height:16.44px;color:#ececec;transform:scaleX(0.9300);">Jul</div>
<div class="t" style="left:908.57px;top:769.72px;font-size:17.39px;line-height:17.39px;color:#ececec;transform:scaleX(0.9300);">Aug</div>
<div class="t" style="left:1057.13px;top:769.93px;font-size:17.14px;line-height:17.14px;color:#ececec;transform:scaleX(0.9300);">Sep</div>
<div class="t" style="left:1212.25px;top:769.93px;font-size:17.14px;line-height:17.14px;color:#ececec;transform:scaleX(0.9300);">Oct</div>
<div class="t" style="left:1361.74px;top:769.72px;font-size:17.39px;line-height:17.39px;color:#ececec;transform:scaleX(0.9300);">Nov</div>
<div class="t" style="left:1507.70px;top:769.72px;font-size:17.39px;line-height:17.39px;color:#ececec;transform:scaleX(0.9300);">Dec</div>
<div class="t" style="left:1655.00px;top:769.72px;font-size:17.39px;line-height:17.39px;color:#ececec;transform:scaleX(0.9300);">Jan</div>
<div class="t" style="left:788.00px;top:790.61px;font-size:17.29px;line-height:17.29px;color:#ececec;transform:scaleX(0.9300);">2024</div>
<div class="t" style="left:1685.48px;top:790.61px;font-size:17.29px;line-height:17.29px;color:#ececec;transform:scaleX(0.9300);">2025</div>
<svg class="b" style="left:0;top:0" width="1882" height="832">
<path d="M38.5 0 Q40 3 42 4" stroke="#1a1600" stroke-width="1.6" fill="none"/>
<rect x="48" y="0" width="4.2" height="3.8" fill="#000"/>
<path d="M61.5 0 Q60.5 3 58.5 4" stroke="#1a1600" stroke-width="1.6" fill="none"/>
<rect x="1845" y="0" width="10" height="2.7" fill="#fff"/>
<path d="M1857.6 0 L1865 0 L1865 4.7 L1857.6 4.7 L1859.5 2.3 Z" fill="#fff"/>
<rect x="1868.3" y="0" width="2.7" height="3.6" fill="#fff"/>
<path d="M1854.2 6.2 L1854.2 9.6 L1857.6 9.6" stroke="#fff" stroke-width="2.4" fill="none"/>
<rect x="1860" y="8.4" width="4" height="2.4" fill="#fff"/>
<path d="M1866.5 9.6 L1869.8 9.6 L1869.8 6.2" stroke="#fff" stroke-width="2.4" fill="none"/>
<path d="M613.5 24.8 L621.8 24.8 L617.65 31.5 Z" fill="#d6d0d0"/>
<path d="M760.6 24.8 L768.3 24.8 L764.45 31.5 Z" fill="#d6d0d0"/>
<path d="M869.2 24.8 L876.9 24.8 L873.05 31.5 Z" fill="#d6d0d0"/>
<path d="M1460.7 18 L1454 18 L1454 36.4 L1472 36.4 L1472 28.6" stroke="#fff" stroke-width="3.9" fill="none"/>
<path d="M1465.7 16 L1474 16 L1474 24.4 Z" fill="#fff"/>
<line x1="1462.3" y1="28.3" x2="1470.5" y2="20" stroke="#fff" stroke-width="3.4"/>
<rect x="138.6" y="58.6" width="10.8" height="9.6" rx="1" fill="none" stroke="#c4c4c4" stroke-width="1.4"/>
<rect x="138.6" y="58.6" width="10.8" height="2.4" fill="#c4c4c4"/>
<rect x="140.4" y="55.6" width="1.4" height="3" fill="#c4c4c4"/>
<rect x="146.2" y="55.6" width="1.4" height="3" fill="#c4c4c4"/>
<rect x="290.90000000000003" y="58.6" width="10.8" height="9.6" rx="1" fill="none" stroke="#c4c4c4" stroke-width="1.4"/>
<rect x="290.90000000000003" y="58.6" width="10.8" height="2.4" fill="#c4c4c4"/>
<rect x="292.7" y="55.6" width="1.4" height="3" fill="#c4c4c4"/>
<rect x="298.5" y="55.6" width="1.4" height="3" fill="#c4c4c4"/>
<path d="M325 58 L318.5 63.3 L325 68.6" stroke="#e6e6f0" stroke-width="1.4" fill="none"/>
<path d="M346.2 58 L352.7 63.3 L346.2 68.6" stroke="#e6e6f0" stroke-width="1.4" fill="none"/>
<line x1="159.5" y1="63" x2="166.7" y2="63" stroke="#f39c27" stroke-width="1.6"/>
<path d="M484.2 60.6 L490.3 60.6 L487.25 65.6 Z" fill="#d8d8d8"/>
<path d="M1806 59.3 L1811.5 59.3 A4.9 5.1 0 0 1 1811.5 69.5 L1806 69.5" stroke="#d8d8d8" stroke-width="2.8" fill="none"/>
<path d="M1800.9 59.3 L1806.9 54.3 L1806.9 64.3 Z" fill="#d8d8d8"/>
<path d="M1852.2 59.3 L1846.7 59.3 A4.9 5.1 0 0 0 1846.7 69.5 L1852.2 69.5" stroke="#7c7c7c" stroke-width="2.8" fill="none"/>
<path d="M1857.3 59.3 L1851.3 54.3 L1851.3 64.3 Z" fill="#7c7c7c"/>
<path d="M455 82.2 L468.2 82.2 L461.60 94.1 Z" fill="#ffffff"/>
<path d="M492.6 80.3 L492.6 93.4 L508.8 93.4" stroke="#c6d4ea" stroke-width="1.7" fill="none"/>
<path d="M494.3 87.8 L498.4 83.3 L502.8 87.4 L508.8 81.4" stroke="#c6d4ea" stroke-width="1.5" fill="none"/>
<line x1="528.3" y1="78" x2="528.3" y2="95.6" stroke="#c8c8c8" stroke-width="1.9"/>
<line x1="537.1" y1="78" x2="537.1" y2="95.6" stroke="#c8c8c8" stroke-width="1.9"/>
<path d="M524.3 81.5 L528.3 80.6 L528.3 82.4 Z" fill="#c8c8c8" stroke="#c8c8c8" stroke-width="0.9"/>
<line x1="528.3" y1="90.4" x2="531.8" y2="90.4" stroke="#c8c8c8" stroke-width="1.6"/>
<path d="M533.3 92.1 L537.1 91.1 L537.1 93.1 Z" fill="#c8c8c8" stroke="#c8c8c8" stroke-width="0.9"/>
<line x1="537.1" y1="83.2" x2="541" y2="83.2" stroke="#c8c8c8" stroke-width="1.6"/>
<path d="M571.3 85.2 L577.7 85.2 L574.50 90.2 Z" fill="#d8d8d8"/>
<path d="M1673 82.3 L1667.6 87.8 L1673 93.3 M1680 82.3 L1674.6 87.8 L1680 93.3" stroke="#d8d8d8" stroke-width="2.3" fill="none"/>
<path d="M1696 94.8 L1697.2 89.3 L1707.6 78.9 L1711.9 83.2 L1701.5 93.6 Z" fill="#d8d8d8"/>
<line x1="1698.8" y1="89" x2="1702" y2="92.2" stroke="#1c1c1c" stroke-width="0.9"/>
<line x1="1814.2" y1="81.8" x2="1826" y2="81.8" stroke="#8a8a8a" stroke-width="1.3"/>
<line x1="1814.2" y1="85.0" x2="1826" y2="85.0" stroke="#8a8a8a" stroke-width="1.3"/>
<line x1="1814.2" y1="88.2" x2="1826" y2="88.2" stroke="#8a8a8a" stroke-width="1.3"/>
<line x1="1814.8" y1="81.2" x2="1814.8" y2="92.5" stroke="#8a8a8a" stroke-width="1.3"/>
<line x1="1818.5" y1="93.2" x2="1830" y2="81.8" stroke="#e0e0e0" stroke-width="2.6"/>
<line x1="1824" y1="93.2" x2="1832" y2="93.2" stroke="#d8d8d8" stroke-width="1.6"/>
<path d="M1865.17 85.33 L1865.17 88.27 L1862.24 88.54 L1861.82 89.55 L1863.70 91.82 L1861.62 93.90 L1859.35 92.02 L1858.34 92.44 L1858.07 95.37 L1855.13 95.37 L1854.86 92.44 L1853.85 92.02 L1851.58 93.90 L1849.50 91.82 L1851.38 89.55 L1850.96 88.54 L1848.03 88.27 L1848.03 85.33 L1850.96 85.06 L1851.38 84.05 L1849.50 81.78 L1851.58 79.70 L1853.85 81.58 L1854.86 81.16 L1855.13 78.23 L1858.07 78.23 L1858.34 81.16 L1859.35 81.58 L1861.62 79.70 L1863.70 81.78 L1861.82 84.05 L1862.24 85.06 Z M1859.1 86.8 A2.5 2.5 0 1 0 1854.1 86.8 A2.5 2.5 0 1 0 1859.1 86.8 Z" fill="#d8d8d8" fill-rule="evenodd"/>
<circle cx="783.9" cy="113.2" r="4.2" fill="none" stroke="#8e959c" stroke-width="1.2"/>
<path d="M783.9 106.5 L783.9 119.9 M777.2 113.2 L790.6 113.2" stroke="#8e959c" stroke-width="1.2"/>
<line x1="860.5" y1="118" x2="868.5" y2="110" stroke="#8e959c" stroke-width="1.6"/>
<line x1="864" y1="118.6" x2="871" y2="118.6" stroke="#8e959c" stroke-width="1.0"/>
<rect x="962" y="107.6" width="5" height="3.6" fill="#8e959c"/>
<line x1="968" y1="108.3" x2="973.3" y2="108.3" stroke="#8e959c" stroke-width="1.1"/>
<line x1="968" y1="110.5" x2="973.3" y2="110.5" stroke="#8e959c" stroke-width="1.1"/>
<line x1="962" y1="112.8" x2="973.3" y2="112.8" stroke="#8e959c" stroke-width="1.1"/>
<line x1="962" y1="115.1" x2="973.3" y2="115.1" stroke="#8e959c" stroke-width="1.1"/>
<line x1="962" y1="117.6" x2="973.3" y2="117.6" stroke="#8e959c" stroke-width="1.1"/>
<circle cx="1043" cy="111.3" r="4.1" fill="none" stroke="#8e959c" stroke-width="1.4"/>
<line x1="1046" y1="114.4" x2="1051.6" y2="119.6" stroke="#8e959c" stroke-width="2.2"/>
</svg>
</body></html>
